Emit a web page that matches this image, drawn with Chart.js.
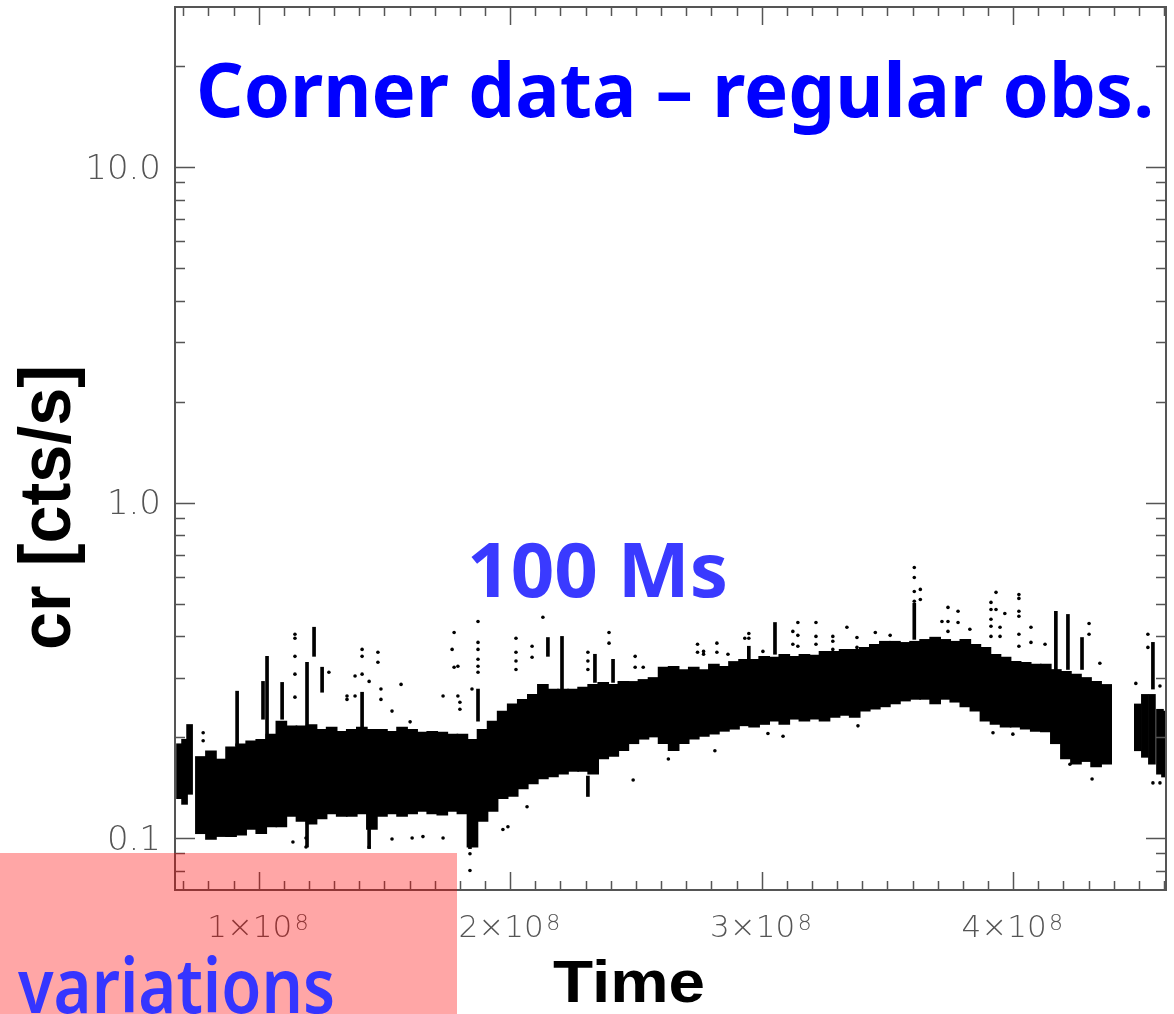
<!DOCTYPE html>
<html>
<head>
<meta charset="utf-8">
<script src="https://cdn.jsdelivr.net/npm/chart.js@4.4.1/dist/chart.umd.min.js"></script>
<style>
  html, body { margin: 0; padding: 0; background: #fff; }
  #wrap { width: 1174px; height: 1014px; }
</style>
</head>
<body>
<div id="wrap"><canvas id="corner_chart" width="1174" height="1014"></canvas></div>
<script>
// time in Ms (1e6 s), count rate in cts/s
const cloudT = [77,81,85,89,93,97,101,105,109,113,117,121,125,129,133,137,141,145,149,153,
  157,161,165,169,173,177,181,185,189,193,197,201,205,209,213,217,221,225,229,233,
  237,241,245,249,253,257,261,265,269,273,277,281,285,289,293,297,301,305,309,313,
  317,321,325,329,333,337,341,345,349,353,357,361,365,369,373,377,381,385,389,393,
  397,401,405,409,413,417,421,425,429,433,437];
const cloudHi = [0.175,0.182,0.172,0.187,0.191,0.195,0.197,0.204,0.223,0.216,
  0.216,0.218,0.211,0.214,0.208,0.211,0.214,0.211,0.211,0.208,
  0.214,0.211,0.207,0.208,0.207,0.204,0.204,0.197,0.211,0.223,
  0.239,0.251,0.259,0.268,0.287,0.278,0.278,0.278,0.282,0.287,
  0.291,0.287,0.293,0.293,0.297,0.301,0.323,0.325,0.318,0.323,
  0.318,0.330,0.325,0.336,0.341,0.341,0.348,0.346,0.353,0.348,
  0.353,0.351,0.360,0.360,0.365,0.365,0.370,0.378,0.386,0.386,
  0.383,0.386,0.391,0.397,0.391,0.386,0.391,0.378,0.370,0.353,
  0.346,0.336,0.334,0.330,0.330,0.318,0.314,0.308,0.301,0.293,0.287];
const cloudLo = [0.103,0.099,0.101,0.101,0.102,0.106,0.103,0.108,0.108,0.116,
  0.112,0.110,0.114,0.118,0.116,0.116,0.118,0.106,0.116,0.118,
  0.116,0.118,0.120,0.118,0.117,0.120,0.118,0.094,0.112,0.120,
  0.131,0.133,0.140,0.145,0.150,0.152,0.155,0.158,0.158,0.155,
  0.172,0.175,0.182,0.191,0.197,0.200,0.191,0.182,0.191,0.197,
  0.201,0.204,0.208,0.211,0.216,0.214,0.218,0.223,0.218,0.226,
  0.223,0.226,0.223,0.229,0.232,0.229,0.239,0.242,0.246,0.251,
  0.256,0.259,0.259,0.251,0.259,0.254,0.246,0.239,0.223,0.218,
  0.214,0.214,0.211,0.208,0.207,0.191,0.172,0.166,0.169,0.163,0.166];

// first short stretch and the last one after the gap
const startT = [68.5,70.5,72.5];
const startHi = [0.191,0.197,0.218];
const startLo = [0.131,0.126,0.135];
const endT = [449.6,452.4,455.2,458.4,460.4];
const endHi = [0.251,0.268,0.268,0.242,0.239];
const endLo = [0.182,0.174,0.166,0.155,0.152];

// vertical streaks of points
const spikeT  = [91.4,101.7,103.3,109.3,119.2,119.2,122.0,125.2,141.1,143.9,184.0,187.2,215.0,220.6,
  233.7,240.9,230.9,294.9,305.3,360.7,417.0,421.8,427.4,455.6];
const spikeLo = [0.188,0.226,0.197,0.226,0.216,0.094,0.348,0.272,0.197,0.093,0.093,0.223,0.348,0.259,
  0.291,0.291,0.133,0.341,0.353,0.391,0.312,0.318,0.318,0.278];
const spikeHi = [0.274,0.293,0.348,0.291,0.334,0.114,0.425,0.323,0.272,0.114,0.120,0.278,0.396,0.399,
  0.353,0.341,0.153,0.373,0.439,0.501,0.474,0.464,0.396,0.383];

// isolated points
const outT = [77.9,77.9,114.4,114.4,114.4,114.4,114.4,113.6,118.8,118.8,127.9,135.1,135.1,138.3,138.3,
  141.1,141.1,141.1,143.9,143.9,147.4,147.4,148.6,148.6,156.6,153.0,153.0,160.2,161.0,165.3,
  173.3,173.3,176.9,177.7,177.7,179.2,179.2,180.0,180.0,184.0,184.0,184.8,187.2,187.2,187.2,
  187.2,187.2,187.2,197.1,199.1,202.3,202.3,202.3,202.3,206.7,208.7,208.7,213.0,230.9,230.9,
  230.9,239.3,239.3,248.9,249.7,249.7,252.9,262.9,274.5,274.5,276.9,276.9,281.4,282.2,282.2,
  286.6,293.3,294.9,294.9,300.5,302.5,308.5,312.4,312.4,314.4,314.4,314.4,321.6,321.6,321.6,
  328.3,328.3,328.3,333.9,337.9,337.9,338.3,345.2,351.1,360.7,360.7,360.7,360.7,363.1,363.1,
  371.7,374.1,374.1,374.1,378.1,378.1,382.8,391.2,391.2,391.2,391.2,391.2,392.0,393.2,393.2,
  394.8,394.8,396.7,399.9,402.3,402.3,402.3,402.3,402.3,402.3,407.1,407.1,412.7,422.6,430.2,
  430.2,431.4,434.5,436.5,448.8,453.6,453.6,458.4,458.4,455.6];
const outCr = [0.206,0.195,0.405,0.394,0.348,0.308,0.263,0.0973,0.100,0.094,0.312,0.265,0.259,0.304,0.265,
  0.365,0.348,0.308,0.293,0.094,0.358,0.334,0.278,0.259,0.287,0.239,0.0993,0.222,0.100,0.101,
  0.265,0.100,0.365,0.410,0.323,0.325,0.265,0.254,0.242,0.0898,0.0800,0.278,0.442,0.383,0.365,
  0.341,0.325,0.312,0.106,0.108,0.394,0.358,0.337,0.318,0.124,0.373,0.346,0.455,0.358,0.337,
  0.318,0.410,0.381,0.149,0.348,0.323,0.323,0.172,0.378,0.358,0.360,0.353,0.182,0.381,0.358,
  0.353,0.394,0.407,0.394,0.360,0.205,0.201,0.413,0.378,0.439,0.402,0.373,0.439,0.399,0.378,
  0.399,0.386,0.365,0.425,0.396,0.370,0.216,0.410,0.402,0.640,0.598,0.543,0.508,0.551,0.514,
  0.442,0.487,0.442,0.413,0.474,0.439,0.419,0.504,0.480,0.449,0.428,0.399,0.206,0.540,0.480,
  0.425,0.399,0.467,0.204,0.532,0.518,0.474,0.458,0.405,0.373,0.425,0.383,0.378,0.166,0.436,
  0.405,0.150,0.332,0.174,0.289,0.405,0.370,0.284,0.146,0.146];

const xTickVals = [100,200,300,400];
const xTickLabels = ["1×10","2×10","3×10","4×10"];
const xTickPower = "8";
const yTickVals = [0.1,1,10];
const yTickLabels = ["0.1","1.0","10.0"];

const toBars = (t, lo, hi) => t.map((v, i) => ({x: v, y: [lo[i], hi[i]]}));

function fitText(ctx, text, x, y, w, font, color){
  ctx.save();
  ctx.font = font;
  ctx.fillStyle = color;
  ctx.textAlign = "left";
  ctx.textBaseline = "alphabetic";
  var m = ctx.measureText(text).width;
  ctx.translate(x, y);
  ctx.scale(w / m, 1);
  ctx.fillText(text, 0, 0);
  ctx.restore();
}

const tickFamily = "'DejaVu Sans', sans-serif";

const framePlugin = {
  id: "frame",
  afterDraw(chart){
    const ctx = chart.ctx, a = chart.chartArea;
    const xs = chart.scales.x, ys = chart.scales.y;
    ctx.save();
    ctx.strokeStyle = "#555";
    ctx.lineWidth = 1.5;
    ctx.beginPath();
    for (let t = 70; t <= 460; t += 10){
      const px = Math.round(xs.getPixelForValue(t)) + 0.5;
      const len = (t % 100 === 0) ? 18 : 9;
      ctx.moveTo(px, a.bottom); ctx.lineTo(px, a.bottom - len);
      ctx.moveTo(px, a.top); ctx.lineTo(px, a.top + len);
    }
    [0.01, 0.1, 1, 10].forEach(d => {
      for (let k = 1; k <= 9; k++){
        const v = k * d;
        if (v <= ys.min * 1.001 || v >= ys.max * 0.999) continue;
        const py = Math.round(ys.getPixelForValue(v)) + 0.5;
        const len = k === 1 ? 20 : 10;
        ctx.moveTo(a.left, py); ctx.lineTo(a.left + len, py);
        ctx.moveTo(a.right, py); ctx.lineTo(a.right - len, py);
      }
    });
    ctx.stroke();
    ctx.lineWidth = 2;
    ctx.strokeRect(a.left, a.top, a.right - a.left, a.bottom - a.top);
    ctx.restore();

    // exponent of the time tick labels
    ctx.save();
    ctx.font = "200 22px " + tickFamily;
    ctx.fillStyle = "#555";
    ctx.textAlign = "left";
    ctx.textBaseline = "alphabetic";
    xTickVals.forEach(v => {
      ctx.fillText(xTickPower, xs.getPixelForValue(v) + 36, 930);
    });
    ctx.restore();

    const blueFont = "bold 76px 'Comic Sans MS', 'Noto Sans', sans-serif";
    fitText(ctx, "Corner data – regular obs.", 196, 117, 958, blueFont, "#0000ff");
    fitText(ctx, "100 Ms", 467, 597, 261, blueFont, "#3a3aff");
    fitText(ctx, "Time", 553, 1002, 152, "bold 60px 'Liberation Sans', Arial, sans-serif", "#000");

    ctx.save();
    ctx.translate(70, 650);
    ctx.rotate(-Math.PI / 2);
    fitText(ctx, "cr [cts/s]", 0, 0, 285, "bold 72px 'Liberation Sans', Arial, sans-serif", "#000");
    ctx.restore();

    ctx.save();
    ctx.fillStyle = "rgba(255,0,0,0.35)";
    ctx.fillRect(0, 853, 457, 161);
    ctx.restore();
    fitText(ctx, "variations", 18, 1013, 317, "600 76px 'Comic Sans MS', 'Noto Sans', sans-serif", "#3535ff");
  }
};

new Chart(document.getElementById("corner_chart").getContext("2d"), {
  type: "bar",
  data: {
    datasets: [
      {data: toBars(cloudT, cloudLo, cloudHi), backgroundColor: "#000", barThickness: 11, grouped: false},
      {data: toBars(startT, startLo, startHi), backgroundColor: "#000", barThickness: 6, grouped: false},
      {data: toBars(endT, endLo, endHi), backgroundColor: "#000", barThickness: 7, grouped: false},
      {data: toBars(spikeT, spikeLo, spikeHi), backgroundColor: "#000", barThickness: 3, grouped: false},
      {type: "scatter", data: outT.map((t, i) => ({x: t, y: outCr[i]})),
        backgroundColor: "#000", borderWidth: 0, pointRadius: 1.8}
    ]
  },
  options: {
    responsive: false,
    animation: false,
    events: [],
    layout: {padding: {left: 0, right: 8, top: 7, bottom: 0}},
    plugins: {legend: {display: false}, tooltip: {enabled: false}},
    scales: {
      x: {
        type: "linear", min: 66.7, max: 460.8, offset: false,
        grid: {display: false, drawTicks: false}, border: {display: false},
        afterBuildTicks: s => { s.ticks = xTickVals.map(v => ({value: v})); },
        afterFit: s => { s.height = 124; s.paddingLeft = 0; s.paddingRight = 0; },
        ticks: {callback: (v, i) => xTickLabels[i], font: {family: tickFamily, size: 31, weight: "200"},
          color: "#555", padding: 20, labelOffset: -9, maxRotation: 0, autoSkip: false}
      },
      y: {
        type: "logarithmic", min: 0.07, max: 30, beginAtZero: false,
        grid: {display: false, drawTicks: false}, border: {display: false},
        afterBuildTicks: s => { s.ticks = yTickVals.map(v => ({value: v})); },
        afterFit: s => { s.width = 175; s.paddingTop = 0; s.paddingBottom = 0; },
        ticks: {callback: (v, i) => yTickLabels[i], font: {family: tickFamily, size: 34, weight: "200"},
          color: "#555", padding: 14, labelOffset: 3, autoSkip: false}
      }
    }
  },
  plugins: [framePlugin]
});
</script>
</body>
</html>
